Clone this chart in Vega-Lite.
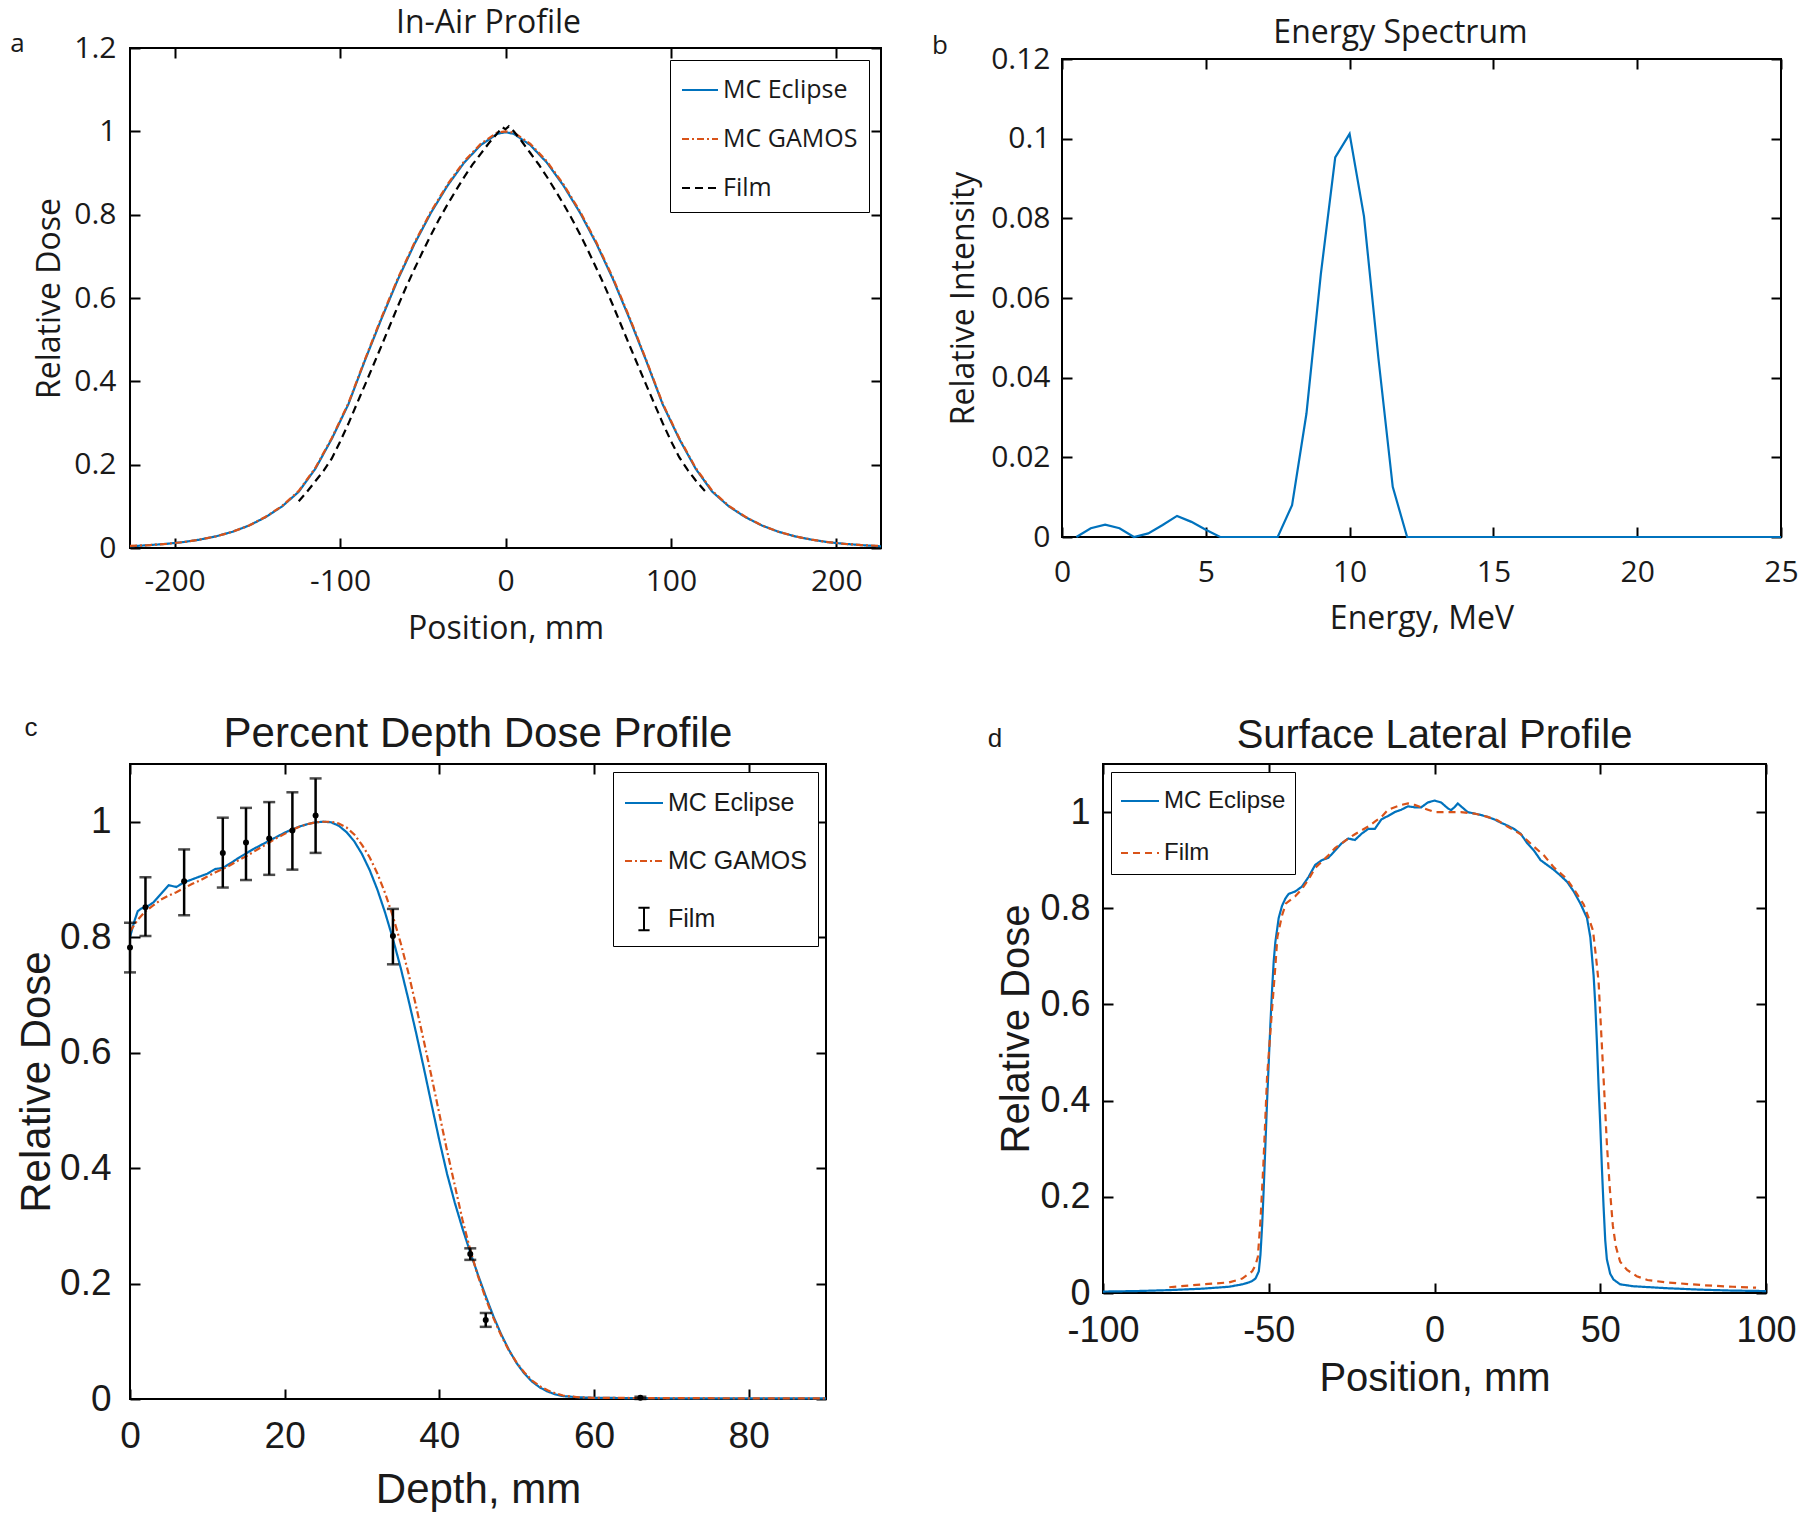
{
  "$schema": "https://vega.github.io/schema/vega-lite/v6.json",
  "background": "white",
  "padding": {"left": 9, "top": 6, "right": 2, "bottom": 2},
  "config": {
    "view": {"stroke": "black", "strokeWidth": 2},
    "axis": {"grid": false, "domain": false, "tickColor": "black", "tickWidth": 2, "tickSize": -10, "labelColor": "#1a1a1a", "titleColor": "#1a1a1a", "titleFontWeight": "normal", "labelFlush": false, "labelOverlap": false},
    "title": {"fontWeight": "normal", "color": "#1a1a1a", "frame": "group"},
    "legend": {"titleFontWeight": "normal", "labelColor": "#1a1a1a", "labelLimit": 400}
  },
  "datasets": {
    "air": [
      {"s":"MC Eclipse","x":-227,"y":0.004},{"s":"MC Eclipse","x":-215,"y":0.007},{"s":"MC Eclipse","x":-205,"y":0.010},{"s":"MC Eclipse","x":-195,"y":0.014},{"s":"MC Eclipse","x":-185,"y":0.020},{"s":"MC Eclipse","x":-175,"y":0.028},{"s":"MC Eclipse","x":-165,"y":0.039},{"s":"MC Eclipse","x":-155,"y":0.054},{"s":"MC Eclipse","x":-145,"y":0.074},{"s":"MC Eclipse","x":-135,"y":0.100},{"s":"MC Eclipse","x":-125,"y":0.135},{"s":"MC Eclipse","x":-115,"y":0.190},{"s":"MC Eclipse","x":-105,"y":0.262},{"s":"MC Eclipse","x":-95,"y":0.345},{"s":"MC Eclipse","x":-85,"y":0.450},{"s":"MC Eclipse","x":-75,"y":0.550},{"s":"MC Eclipse","x":-65,"y":0.645},{"s":"MC Eclipse","x":-55,"y":0.730},{"s":"MC Eclipse","x":-45,"y":0.805},{"s":"MC Eclipse","x":-35,"y":0.870},{"s":"MC Eclipse","x":-25,"y":0.925},{"s":"MC Eclipse","x":-15,"y":0.967},{"s":"MC Eclipse","x":-5,"y":0.994},{"s":"MC Eclipse","x":0,"y":0.998},{"s":"MC Eclipse","x":5,"y":0.994},{"s":"MC Eclipse","x":15,"y":0.967},{"s":"MC Eclipse","x":25,"y":0.925},{"s":"MC Eclipse","x":35,"y":0.870},{"s":"MC Eclipse","x":45,"y":0.805},{"s":"MC Eclipse","x":55,"y":0.730},{"s":"MC Eclipse","x":65,"y":0.645},{"s":"MC Eclipse","x":75,"y":0.550},{"s":"MC Eclipse","x":85,"y":0.450},{"s":"MC Eclipse","x":95,"y":0.345},{"s":"MC Eclipse","x":105,"y":0.262},{"s":"MC Eclipse","x":115,"y":0.190},{"s":"MC Eclipse","x":125,"y":0.135},{"s":"MC Eclipse","x":135,"y":0.100},{"s":"MC Eclipse","x":145,"y":0.074},{"s":"MC Eclipse","x":155,"y":0.054},{"s":"MC Eclipse","x":165,"y":0.039},{"s":"MC Eclipse","x":175,"y":0.028},{"s":"MC Eclipse","x":185,"y":0.020},{"s":"MC Eclipse","x":195,"y":0.014},{"s":"MC Eclipse","x":205,"y":0.010},{"s":"MC Eclipse","x":215,"y":0.007},{"s":"MC Eclipse","x":227,"y":0.004},
      {"s":"MC GAMOS","x":-227,"y":0.005},{"s":"MC GAMOS","x":-215,"y":0.007},{"s":"MC GAMOS","x":-205,"y":0.010},{"s":"MC GAMOS","x":-195,"y":0.014},{"s":"MC GAMOS","x":-185,"y":0.020},{"s":"MC GAMOS","x":-175,"y":0.028},{"s":"MC GAMOS","x":-165,"y":0.039},{"s":"MC GAMOS","x":-155,"y":0.054},{"s":"MC GAMOS","x":-145,"y":0.075},{"s":"MC GAMOS","x":-135,"y":0.101},{"s":"MC GAMOS","x":-125,"y":0.137},{"s":"MC GAMOS","x":-115,"y":0.192},{"s":"MC GAMOS","x":-105,"y":0.264},{"s":"MC GAMOS","x":-95,"y":0.347},{"s":"MC GAMOS","x":-85,"y":0.452},{"s":"MC GAMOS","x":-75,"y":0.553},{"s":"MC GAMOS","x":-65,"y":0.648},{"s":"MC GAMOS","x":-55,"y":0.733},{"s":"MC GAMOS","x":-45,"y":0.808},{"s":"MC GAMOS","x":-35,"y":0.873},{"s":"MC GAMOS","x":-25,"y":0.928},{"s":"MC GAMOS","x":-15,"y":0.970},{"s":"MC GAMOS","x":-5,"y":0.997},{"s":"MC GAMOS","x":0,"y":1.0},{"s":"MC GAMOS","x":5,"y":0.997},{"s":"MC GAMOS","x":15,"y":0.970},{"s":"MC GAMOS","x":25,"y":0.928},{"s":"MC GAMOS","x":35,"y":0.873},{"s":"MC GAMOS","x":45,"y":0.808},{"s":"MC GAMOS","x":55,"y":0.733},{"s":"MC GAMOS","x":65,"y":0.648},{"s":"MC GAMOS","x":75,"y":0.553},{"s":"MC GAMOS","x":85,"y":0.452},{"s":"MC GAMOS","x":95,"y":0.347},{"s":"MC GAMOS","x":105,"y":0.264},{"s":"MC GAMOS","x":115,"y":0.192},{"s":"MC GAMOS","x":125,"y":0.137},{"s":"MC GAMOS","x":135,"y":0.101},{"s":"MC GAMOS","x":145,"y":0.075},{"s":"MC GAMOS","x":155,"y":0.054},{"s":"MC GAMOS","x":165,"y":0.039},{"s":"MC GAMOS","x":175,"y":0.028},{"s":"MC GAMOS","x":185,"y":0.020},{"s":"MC GAMOS","x":195,"y":0.014},{"s":"MC GAMOS","x":205,"y":0.010},{"s":"MC GAMOS","x":215,"y":0.007},{"s":"MC GAMOS","x":227,"y":0.005},
      {"s":"Film","x":-125,"y":0.112},{"s":"Film","x":-120,"y":0.135},{"s":"Film","x":-115,"y":0.160},{"s":"Film","x":-110,"y":0.185},{"s":"Film","x":-105,"y":0.215},{"s":"Film","x":-100,"y":0.255},{"s":"Film","x":-95,"y":0.298},{"s":"Film","x":-90,"y":0.345},{"s":"Film","x":-85,"y":0.391},{"s":"Film","x":-80,"y":0.438},{"s":"Film","x":-75,"y":0.485},{"s":"Film","x":-70,"y":0.533},{"s":"Film","x":-65,"y":0.581},{"s":"Film","x":-60,"y":0.627},{"s":"Film","x":-55,"y":0.670},{"s":"Film","x":-50,"y":0.712},{"s":"Film","x":-45,"y":0.752},{"s":"Film","x":-40,"y":0.790},{"s":"Film","x":-35,"y":0.825},{"s":"Film","x":-30,"y":0.858},{"s":"Film","x":-25,"y":0.890},{"s":"Film","x":-20,"y":0.920},{"s":"Film","x":-15,"y":0.946},{"s":"Film","x":-10,"y":0.972},{"s":"Film","x":-5,"y":0.995},{"s":"Film","x":-2,"y":1.010},{"s":"Film","x":0,"y":1.005},{"s":"Film","x":2,"y":1.012},{"s":"Film","x":5,"y":1.000},{"s":"Film","x":10,"y":0.975},{"s":"Film","x":15,"y":0.948},{"s":"Film","x":20,"y":0.921},{"s":"Film","x":25,"y":0.891},{"s":"Film","x":30,"y":0.859},{"s":"Film","x":35,"y":0.826},{"s":"Film","x":40,"y":0.791},{"s":"Film","x":45,"y":0.753},{"s":"Film","x":50,"y":0.713},{"s":"Film","x":55,"y":0.671},{"s":"Film","x":60,"y":0.628},{"s":"Film","x":65,"y":0.582},{"s":"Film","x":70,"y":0.534},{"s":"Film","x":75,"y":0.486},{"s":"Film","x":80,"y":0.439},{"s":"Film","x":85,"y":0.392},{"s":"Film","x":90,"y":0.346},{"s":"Film","x":95,"y":0.300},{"s":"Film","x":100,"y":0.257},{"s":"Film","x":105,"y":0.218},{"s":"Film","x":110,"y":0.188},{"s":"Film","x":115,"y":0.162},{"s":"Film","x":122,"y":0.130}
    ],
    "spec": [
      {"e":0.5,"i":0},{"e":1.0,"i":0.0022},{"e":1.5,"i":0.0031},{"e":2.0,"i":0.0022},{"e":2.5,"i":0},{"e":3.0,"i":0.0009},{"e":3.5,"i":0.003},{"e":4.0,"i":0.0053},{"e":4.5,"i":0.0038},{"e":5.0,"i":0.0018},{"e":5.5,"i":0},{"e":6.0,"i":0},{"e":6.5,"i":0},{"e":7.0,"i":0},{"e":7.5,"i":0},{"e":8.0,"i":0.008},{"e":8.5,"i":0.031},{"e":9.0,"i":0.066},{"e":9.5,"i":0.0953},{"e":10.0,"i":0.1012},{"e":10.5,"i":0.0805},{"e":11.0,"i":0.045},{"e":11.5,"i":0.0126},{"e":12.0,"i":0},{"e":13,"i":0},{"e":14,"i":0},{"e":15,"i":0},{"e":16,"i":0},{"e":17,"i":0},{"e":18,"i":0},{"e":19,"i":0},{"e":20,"i":0},{"e":21,"i":0},{"e":22,"i":0},{"e":23,"i":0},{"e":24,"i":0},{"e":25,"i":0}
    ],
    "pdd": [
      {"s":"MC Eclipse","x":0,"y":0.80},{"s":"MC Eclipse","x":0.5,"y":0.825},{"s":"MC Eclipse","x":1,"y":0.845},{"s":"MC Eclipse","x":1.5,"y":0.85},{"s":"MC Eclipse","x":2,"y":0.851},{"s":"MC Eclipse","x":3,"y":0.86},{"s":"MC Eclipse","x":4,"y":0.875},{"s":"MC Eclipse","x":5,"y":0.89},{"s":"MC Eclipse","x":6,"y":0.887},{"s":"MC Eclipse","x":7,"y":0.895},{"s":"MC Eclipse","x":8,"y":0.90},{"s":"MC Eclipse","x":9,"y":0.905},{"s":"MC Eclipse","x":10,"y":0.91},{"s":"MC Eclipse","x":11,"y":0.918},{"s":"MC Eclipse","x":12,"y":0.92},{"s":"MC Eclipse","x":13,"y":0.928},{"s":"MC Eclipse","x":14,"y":0.937},{"s":"MC Eclipse","x":15,"y":0.945},{"s":"MC Eclipse","x":16,"y":0.953},{"s":"MC Eclipse","x":17,"y":0.96},{"s":"MC Eclipse","x":18,"y":0.967},{"s":"MC Eclipse","x":19,"y":0.974},{"s":"MC Eclipse","x":20,"y":0.981},{"s":"MC Eclipse","x":21,"y":0.987},{"s":"MC Eclipse","x":22,"y":0.992},{"s":"MC Eclipse","x":23,"y":0.996},{"s":"MC Eclipse","x":24,"y":0.999},{"s":"MC Eclipse","x":25,"y":1.0},{"s":"MC Eclipse","x":26,"y":0.999},{"s":"MC Eclipse","x":27,"y":0.993},{"s":"MC Eclipse","x":28,"y":0.982},{"s":"MC Eclipse","x":29,"y":0.966},{"s":"MC Eclipse","x":30,"y":0.944},{"s":"MC Eclipse","x":31,"y":0.916},{"s":"MC Eclipse","x":32,"y":0.882},{"s":"MC Eclipse","x":33,"y":0.842},{"s":"MC Eclipse","x":34,"y":0.797},{"s":"MC Eclipse","x":35,"y":0.747},{"s":"MC Eclipse","x":36,"y":0.692},{"s":"MC Eclipse","x":37,"y":0.634},{"s":"MC Eclipse","x":38,"y":0.573},{"s":"MC Eclipse","x":39,"y":0.51},{"s":"MC Eclipse","x":40,"y":0.448},{"s":"MC Eclipse","x":41,"y":0.39},{"s":"MC Eclipse","x":42,"y":0.34},{"s":"MC Eclipse","x":43,"y":0.295},{"s":"MC Eclipse","x":44,"y":0.254},{"s":"MC Eclipse","x":45,"y":0.215},{"s":"MC Eclipse","x":46,"y":0.178},{"s":"MC Eclipse","x":47,"y":0.143},{"s":"MC Eclipse","x":48,"y":0.112},{"s":"MC Eclipse","x":49,"y":0.085},{"s":"MC Eclipse","x":50,"y":0.062},{"s":"MC Eclipse","x":51,"y":0.044},{"s":"MC Eclipse","x":52,"y":0.03},{"s":"MC Eclipse","x":53,"y":0.02},{"s":"MC Eclipse","x":54,"y":0.013},{"s":"MC Eclipse","x":55,"y":0.008},{"s":"MC Eclipse","x":56,"y":0.005},{"s":"MC Eclipse","x":58,"y":0.003},{"s":"MC Eclipse","x":60,"y":0.002},{"s":"MC Eclipse","x":70,"y":0.0012},{"s":"MC Eclipse","x":80,"y":0.001},{"s":"MC Eclipse","x":90,"y":0.001},
      {"s":"MC GAMOS","x":0,"y":0.81},{"s":"MC GAMOS","x":1,"y":0.83},{"s":"MC GAMOS","x":2,"y":0.845},{"s":"MC GAMOS","x":3,"y":0.855},{"s":"MC GAMOS","x":4,"y":0.865},{"s":"MC GAMOS","x":5,"y":0.872},{"s":"MC GAMOS","x":6,"y":0.878},{"s":"MC GAMOS","x":7,"y":0.885},{"s":"MC GAMOS","x":8,"y":0.892},{"s":"MC GAMOS","x":9,"y":0.898},{"s":"MC GAMOS","x":10,"y":0.905},{"s":"MC GAMOS","x":11,"y":0.912},{"s":"MC GAMOS","x":12,"y":0.918},{"s":"MC GAMOS","x":13,"y":0.925},{"s":"MC GAMOS","x":14,"y":0.933},{"s":"MC GAMOS","x":15,"y":0.94},{"s":"MC GAMOS","x":16,"y":0.948},{"s":"MC GAMOS","x":17,"y":0.956},{"s":"MC GAMOS","x":18,"y":0.964},{"s":"MC GAMOS","x":19,"y":0.972},{"s":"MC GAMOS","x":20,"y":0.979},{"s":"MC GAMOS","x":21,"y":0.986},{"s":"MC GAMOS","x":22,"y":0.992},{"s":"MC GAMOS","x":23,"y":0.996},{"s":"MC GAMOS","x":24,"y":0.999},{"s":"MC GAMOS","x":25,"y":1.0},{"s":"MC GAMOS","x":26,"y":1.0},{"s":"MC GAMOS","x":27,"y":0.997},{"s":"MC GAMOS","x":28,"y":0.99},{"s":"MC GAMOS","x":29,"y":0.978},{"s":"MC GAMOS","x":30,"y":0.96},{"s":"MC GAMOS","x":31,"y":0.938},{"s":"MC GAMOS","x":32,"y":0.91},{"s":"MC GAMOS","x":33,"y":0.876},{"s":"MC GAMOS","x":34,"y":0.836},{"s":"MC GAMOS","x":35,"y":0.79},{"s":"MC GAMOS","x":36,"y":0.738},{"s":"MC GAMOS","x":37,"y":0.68},{"s":"MC GAMOS","x":38,"y":0.62},{"s":"MC GAMOS","x":39,"y":0.558},{"s":"MC GAMOS","x":40,"y":0.494},{"s":"MC GAMOS","x":41,"y":0.43},{"s":"MC GAMOS","x":42,"y":0.37},{"s":"MC GAMOS","x":43,"y":0.31},{"s":"MC GAMOS","x":44,"y":0.258},{"s":"MC GAMOS","x":45,"y":0.213},{"s":"MC GAMOS","x":46,"y":0.174},{"s":"MC GAMOS","x":47,"y":0.14},{"s":"MC GAMOS","x":48,"y":0.11},{"s":"MC GAMOS","x":49,"y":0.084},{"s":"MC GAMOS","x":50,"y":0.063},{"s":"MC GAMOS","x":51,"y":0.046},{"s":"MC GAMOS","x":52,"y":0.032},{"s":"MC GAMOS","x":53,"y":0.022},{"s":"MC GAMOS","x":54,"y":0.015},{"s":"MC GAMOS","x":55,"y":0.01},{"s":"MC GAMOS","x":56,"y":0.006},{"s":"MC GAMOS","x":58,"y":0.003},{"s":"MC GAMOS","x":60,"y":0.002},{"s":"MC GAMOS","x":70,"y":0.0015},{"s":"MC GAMOS","x":80,"y":0.0012},{"s":"MC GAMOS","x":90,"y":0.0012}
    ],
    "pddFilm": [
      {"s":"Film","x":0,"y":0.782,"lo":0.739,"hi":0.825},
      {"s":"Film","x":2,"y":0.852,"lo":0.802,"hi":0.904},
      {"s":"Film","x":7,"y":0.897,"lo":0.838,"hi":0.952},
      {"s":"Film","x":12,"y":0.946,"lo":0.886,"hi":1.007},
      {"s":"Film","x":15,"y":0.964,"lo":0.899,"hi":1.024},
      {"s":"Film","x":18,"y":0.971,"lo":0.908,"hi":1.034},
      {"s":"Film","x":21,"y":0.985,"lo":0.917,"hi":1.051},
      {"s":"Film","x":24,"y":1.011,"lo":0.946,"hi":1.075},
      {"s":"Film","x":34,"y":0.802,"lo":0.753,"hi":0.849},
      {"s":"Film","x":44,"y":0.251,"lo":0.241,"hi":0.261},
      {"s":"Film","x":46,"y":0.137,"lo":0.125,"hi":0.149},
      {"s":"Film","x":66,"y":0.002,"lo":0.0,"hi":0.004}
    ],
    "lat": [
      {"s":"MC Eclipse","x":-100,"y":0.003},{"s":"MC Eclipse","x":-90,"y":0.004},{"s":"MC Eclipse","x":-80,"y":0.006},{"s":"MC Eclipse","x":-70,"y":0.009},{"s":"MC Eclipse","x":-62,"y":0.013},{"s":"MC Eclipse","x":-58,"y":0.018},{"s":"MC Eclipse","x":-56,"y":0.022},{"s":"MC Eclipse","x":-55,"y":0.025},{"s":"MC Eclipse","x":-54,"y":0.03},{"s":"MC Eclipse","x":-53,"y":0.045},{"s":"MC Eclipse","x":-52.5,"y":0.08},{"s":"MC Eclipse","x":-52,"y":0.14},{"s":"MC Eclipse","x":-51.5,"y":0.22},{"s":"MC Eclipse","x":-51,"y":0.31},{"s":"MC Eclipse","x":-50.5,"y":0.40},{"s":"MC Eclipse","x":-50,"y":0.48},{"s":"MC Eclipse","x":-49.5,"y":0.56},{"s":"MC Eclipse","x":-49,"y":0.63},{"s":"MC Eclipse","x":-48.5,"y":0.69},{"s":"MC Eclipse","x":-48,"y":0.73},{"s":"MC Eclipse","x":-47,"y":0.78},{"s":"MC Eclipse","x":-46,"y":0.805},{"s":"MC Eclipse","x":-45,"y":0.82},{"s":"MC Eclipse","x":-44,"y":0.83},{"s":"MC Eclipse","x":-42,"y":0.835},{"s":"MC Eclipse","x":-40,"y":0.845},{"s":"MC Eclipse","x":-38,"y":0.865},{"s":"MC Eclipse","x":-36,"y":0.89},{"s":"MC Eclipse","x":-34,"y":0.90},{"s":"MC Eclipse","x":-32,"y":0.905},{"s":"MC Eclipse","x":-30,"y":0.92},{"s":"MC Eclipse","x":-28,"y":0.935},{"s":"MC Eclipse","x":-26,"y":0.945},{"s":"MC Eclipse","x":-24,"y":0.942},{"s":"MC Eclipse","x":-22,"y":0.955},{"s":"MC Eclipse","x":-20,"y":0.965},{"s":"MC Eclipse","x":-18,"y":0.965},{"s":"MC Eclipse","x":-16,"y":0.985},{"s":"MC Eclipse","x":-14,"y":0.992},{"s":"MC Eclipse","x":-12,"y":1.0},{"s":"MC Eclipse","x":-10,"y":1.005},{"s":"MC Eclipse","x":-8,"y":1.012},{"s":"MC Eclipse","x":-6,"y":1.01},{"s":"MC Eclipse","x":-4,"y":1.01},{"s":"MC Eclipse","x":-2,"y":1.02},{"s":"MC Eclipse","x":0,"y":1.024},{"s":"MC Eclipse","x":2,"y":1.02},{"s":"MC Eclipse","x":4,"y":1.008},{"s":"MC Eclipse","x":5,"y":1.004},{"s":"MC Eclipse","x":6,"y":1.01},{"s":"MC Eclipse","x":7,"y":1.018},{"s":"MC Eclipse","x":8,"y":1.012},{"s":"MC Eclipse","x":10,"y":1.0},{"s":"MC Eclipse","x":12,"y":0.997},{"s":"MC Eclipse","x":14,"y":0.994},{"s":"MC Eclipse","x":16,"y":0.99},{"s":"MC Eclipse","x":18,"y":0.985},{"s":"MC Eclipse","x":20,"y":0.978},{"s":"MC Eclipse","x":22,"y":0.972},{"s":"MC Eclipse","x":24,"y":0.965},{"s":"MC Eclipse","x":26,"y":0.955},{"s":"MC Eclipse","x":28,"y":0.935},{"s":"MC Eclipse","x":30,"y":0.92},{"s":"MC Eclipse","x":32,"y":0.90},{"s":"MC Eclipse","x":34,"y":0.89},{"s":"MC Eclipse","x":36,"y":0.88},{"s":"MC Eclipse","x":38,"y":0.868},{"s":"MC Eclipse","x":40,"y":0.855},{"s":"MC Eclipse","x":42,"y":0.835},{"s":"MC Eclipse","x":44,"y":0.81},{"s":"MC Eclipse","x":45,"y":0.795},{"s":"MC Eclipse","x":46,"y":0.78},{"s":"MC Eclipse","x":47,"y":0.74},{"s":"MC Eclipse","x":47.5,"y":0.70},{"s":"MC Eclipse","x":48,"y":0.66},{"s":"MC Eclipse","x":48.5,"y":0.60},{"s":"MC Eclipse","x":49,"y":0.52},{"s":"MC Eclipse","x":49.5,"y":0.43},{"s":"MC Eclipse","x":50,"y":0.35},{"s":"MC Eclipse","x":50.5,"y":0.26},{"s":"MC Eclipse","x":51,"y":0.18},{"s":"MC Eclipse","x":51.5,"y":0.11},{"s":"MC Eclipse","x":52,"y":0.07},{"s":"MC Eclipse","x":53,"y":0.04},{"s":"MC Eclipse","x":54,"y":0.028},{"s":"MC Eclipse","x":56,"y":0.018},{"s":"MC Eclipse","x":60,"y":0.014},{"s":"MC Eclipse","x":70,"y":0.01},{"s":"MC Eclipse","x":80,"y":0.007},{"s":"MC Eclipse","x":90,"y":0.005},{"s":"MC Eclipse","x":100,"y":0.004},
      {"s":"Film","x":-80,"y":0.012},{"s":"Film","x":-70,"y":0.018},{"s":"Film","x":-62,"y":0.022},{"s":"Film","x":-58,"y":0.03},{"s":"Film","x":-55,"y":0.045},{"s":"Film","x":-54,"y":0.058},{"s":"Film","x":-53.3,"y":0.075},{"s":"Film","x":-52.5,"y":0.15},{"s":"Film","x":-51.6,"y":0.27},{"s":"Film","x":-50.5,"y":0.45},{"s":"Film","x":-49,"y":0.59},{"s":"Film","x":-48,"y":0.68},{"s":"Film","x":-47.4,"y":0.74},{"s":"Film","x":-46,"y":0.785},{"s":"Film","x":-44.8,"y":0.81},{"s":"Film","x":-42,"y":0.825},{"s":"Film","x":-40,"y":0.84},{"s":"Film","x":-38,"y":0.86},{"s":"Film","x":-36,"y":0.884},{"s":"Film","x":-34,"y":0.897},{"s":"Film","x":-32,"y":0.91},{"s":"Film","x":-30,"y":0.925},{"s":"Film","x":-28,"y":0.935},{"s":"Film","x":-26,"y":0.945},{"s":"Film","x":-24,"y":0.954},{"s":"Film","x":-22,"y":0.962},{"s":"Film","x":-20,"y":0.97},{"s":"Film","x":-18,"y":0.98},{"s":"Film","x":-16,"y":0.99},{"s":"Film","x":-14,"y":1.005},{"s":"Film","x":-12,"y":1.01},{"s":"Film","x":-10,"y":1.015},{"s":"Film","x":-8,"y":1.018},{"s":"Film","x":-6,"y":1.015},{"s":"Film","x":-4,"y":1.01},{"s":"Film","x":-2,"y":1.005},{"s":"Film","x":0,"y":1.0},{"s":"Film","x":4,"y":1.0},{"s":"Film","x":8,"y":1.0},{"s":"Film","x":12,"y":0.997},{"s":"Film","x":16,"y":0.99},{"s":"Film","x":19,"y":0.983},{"s":"Film","x":22,"y":0.97},{"s":"Film","x":26,"y":0.954},{"s":"Film","x":30,"y":0.928},{"s":"Film","x":33,"y":0.91},{"s":"Film","x":36,"y":0.885},{"s":"Film","x":39.8,"y":0.862},{"s":"Film","x":42,"y":0.84},{"s":"Film","x":45,"y":0.808},{"s":"Film","x":46.5,"y":0.78},{"s":"Film","x":47.8,"y":0.754},{"s":"Film","x":48.7,"y":0.70},{"s":"Film","x":49.5,"y":0.647},{"s":"Film","x":50.3,"y":0.54},{"s":"Film","x":51.2,"y":0.42},{"s":"Film","x":52,"y":0.31},{"s":"Film","x":52.9,"y":0.216},{"s":"Film","x":53.8,"y":0.14},{"s":"Film","x":54.7,"y":0.097},{"s":"Film","x":56,"y":0.065},{"s":"Film","x":58.1,"y":0.048},{"s":"Film","x":61,"y":0.035},{"s":"Film","x":64.2,"y":0.027},{"s":"Film","x":70,"y":0.022},{"s":"Film","x":81.5,"y":0.016},{"s":"Film","x":90,"y":0.013},{"s":"Film","x":97,"y":0.011}
    ]
  },
  "spacing": 66,
  "resolve": {"scale": {"color": "independent", "strokeDash": "independent"}, "legend": {"color": "independent", "strokeDash": "independent"}},
  "vconcat": [
    {
      "resolve": {"scale": {"color": "independent", "strokeDash": "independent"}, "legend": {"color": "independent", "strokeDash": "independent"}},
      "hconcat": [
        {
          "width": 751, "height": 500,
          "title": {"text": "In-Air Profile", "font": "Open Sans", "fontSize": 32, "offset": -9, "dx": -17},
          "resolve": {"axis": {"x": "independent", "y": "independent"}},
          "layer": [
            {
              "data": {"name": "air"},
              "transform": [{"filter": "datum.s === 'MC Eclipse'"}],
              "mark": {"type": "line", "strokeWidth": 2.2},
              "encoding": {
                "x": {"field": "x", "type": "quantitative", "scale": {"domain": [-227, 227], "nice": false, "zero": false},
                      "axis": {"orient": "bottom", "values": [-200, -100, 0, 100, 200], "labelExpr": "datum.value < 0 ? '-' + format(-datum.value, '~g') : format(datum.value, '~g')", "title": "Position, mm", "labelFont": "Open Sans", "labelFontSize": 30, "titleFont": "Open Sans", "titleFontSize": 32, "labelPadding": 28, "titlePadding": 17}},
                "y": {"field": "y", "type": "quantitative", "scale": {"domain": [0, 1.2], "nice": false, "zero": false},
                      "axis": {"orient": "left", "values": [0, 0.2, 0.4, 0.6, 0.8, 1, 1.2], "labelExpr": "format(datum.value, '~g')", "title": "Relative Dose", "labelFont": "Open Sans", "labelFontSize": 30, "titleFont": "Open Sans", "titleFontSize": 32, "labelPadding": 24, "titlePadding": 7}},
                "color": {"field": "s", "type": "nominal", "scale": {"domain": ["MC Eclipse", "MC GAMOS", "Film"], "range": ["#0072BD", "#D95319", "#000000"]},
                          "legend": {"orient": "top-right", "offset": 12, "title": null, "strokeColor": "black", "fillColor": "white", "padding": 11, "labelFont": "Open Sans", "labelFontSize": 25, "symbolSize": 1296, "symbolStrokeWidth": 2, "rowPadding": 17, "labelOffset": 4}},
                "strokeDash": {"field": "s", "type": "nominal", "scale": {"domain": ["MC Eclipse", "MC GAMOS", "Film"], "range": [[1, 0], [7, 3, 2, 3], [8, 5]]},
                          "legend": {"orient": "top-right", "offset": 12, "title": null, "strokeColor": "black", "fillColor": "white", "padding": 11, "labelFont": "Open Sans", "labelFontSize": 25, "symbolSize": 1296, "symbolStrokeWidth": 2, "rowPadding": 17, "labelOffset": 4}}
              }
            },
            {
              "data": {"name": "air"},
              "transform": [{"filter": "datum.s === 'MC GAMOS'"}],
              "mark": {"type": "line", "strokeWidth": 2.2},
              "encoding": {
                "x": {"field": "x", "type": "quantitative", "scale": {"domain": [-227, 227], "nice": false, "zero": false},
                      "axis": {"orient": "top", "values": [-200, -100, 0, 100, 200], "labels": false, "title": null}},
                "y": {"field": "y", "type": "quantitative", "scale": {"domain": [0, 1.2], "nice": false, "zero": false},
                      "axis": {"orient": "right", "values": [0, 0.2, 0.4, 0.6, 0.8, 1, 1.2], "labels": false, "title": null}},
                "color": {"field": "s", "type": "nominal", "scale": {"domain": ["MC Eclipse", "MC GAMOS", "Film"], "range": ["#0072BD", "#D95319", "#000000"]}},
                "strokeDash": {"field": "s", "type": "nominal", "scale": {"domain": ["MC Eclipse", "MC GAMOS", "Film"], "range": [[1, 0], [7, 3, 2, 3], [8, 5]]}}
              }
            },
            {
              "data": {"name": "air"},
              "transform": [{"filter": "datum.s === 'Film'"}],
              "mark": {"type": "line", "strokeWidth": 2.2},
              "encoding": {
                "x": {"field": "x", "type": "quantitative", "scale": {"domain": [-227, 227], "nice": false, "zero": false}, "axis": null},
                "y": {"field": "y", "type": "quantitative", "scale": {"domain": [0, 1.2], "nice": false, "zero": false}, "axis": null},
                "color": {"field": "s", "type": "nominal", "scale": {"domain": ["MC Eclipse", "MC GAMOS", "Film"], "range": ["#0072BD", "#D95319", "#000000"]}},
                "strokeDash": {"field": "s", "type": "nominal", "scale": {"domain": ["MC Eclipse", "MC GAMOS", "Film"], "range": [[1, 0], [7, 3, 2, 3], [8, 5]]}}
              }
            },
            {
              "data": {"values": [{}]},
              "mark": {"type": "text", "font": "Open Sans", "fontSize": 26, "color": "#1a1a1a", "baseline": "middle", "align": "center"},
              "encoding": {
                "x": {"datum": -295, "type": "quantitative", "scale": {"domain": [-227, 227], "nice": false, "zero": false}, "axis": null},
                "y": {"datum": 1.2096, "type": "quantitative", "scale": {"domain": [0, 1.2], "nice": false, "zero": false}, "axis": null},
                "text": {"value": "a"}
              }
            }
          ]
        },
        {
          "width": 719, "height": 478,
          "title": {"text": "Energy Spectrum", "font": "Open Sans", "fontSize": 32, "offset": -17, "dx": -21},
          "resolve": {"axis": {"x": "independent", "y": "independent"}},
          "layer": [
            {
              "data": {"name": "spec"},
              "mark": {"type": "line", "strokeWidth": 2.2, "color": "#0072BD"},
              "encoding": {
                "x": {"field": "e", "type": "quantitative", "scale": {"domain": [0, 25], "nice": false, "zero": false},
                      "axis": {"orient": "bottom", "values": [0, 5, 10, 15, 20, 25], "labelExpr": "format(datum.value, '~g')", "title": "Energy, MeV", "labelFont": "Open Sans", "labelFontSize": 30, "titleFont": "Open Sans", "titleFontSize": 32, "labelPadding": 30, "titlePadding": 16}},
                "y": {"field": "i", "type": "quantitative", "scale": {"domain": [0, 0.12], "nice": false, "zero": false},
                      "axis": {"orient": "left", "values": [0, 0.02, 0.04, 0.06, 0.08, 0.1, 0.12], "labelExpr": "format(datum.value, '~g')", "title": "Relative Intensity", "labelFont": "Open Sans", "labelFontSize": 30, "titleFont": "Open Sans", "titleFontSize": 32, "labelPadding": 22, "titlePadding": 10}}
              }
            },
            {
              "data": {"name": "spec"},
              "mark": {"type": "line", "strokeWidth": 2.2, "color": "#0072BD", "opacity": 0},
              "encoding": {
                "x": {"field": "e", "type": "quantitative", "scale": {"domain": [0, 25], "nice": false, "zero": false},
                      "axis": {"orient": "top", "values": [0, 5, 10, 15, 20, 25], "labels": false, "title": null}},
                "y": {"field": "i", "type": "quantitative", "scale": {"domain": [0, 0.12], "nice": false, "zero": false},
                      "axis": {"orient": "right", "values": [0, 0.02, 0.04, 0.06, 0.08, 0.1, 0.12], "labels": false, "title": null}}
              }
            },
            {
              "data": {"values": [{}]},
              "mark": {"type": "text", "font": "Open Sans", "fontSize": 26, "color": "#1a1a1a", "baseline": "middle", "align": "center"},
              "encoding": {
                "x": {"datum": -4.24, "type": "quantitative", "scale": {"domain": [0, 25], "nice": false, "zero": false}, "axis": null},
                "y": {"datum": 0.12326, "type": "quantitative", "scale": {"domain": [0, 0.12], "nice": false, "zero": false}, "axis": null},
                "text": {"value": "b"}
              }
            }
          ]
        }
      ],
      "bounds": "flush",
      "center": true,
      "spacing": 181
    },
    {
      "resolve": {"scale": {"color": "independent", "strokeDash": "independent"}, "legend": {"color": "independent", "strokeDash": "independent"}},
      "hconcat": [
        {
          "width": 696, "height": 635,
          "title": {"text": "Percent Depth Dose Profile", "font": "Liberation Sans", "fontSize": 42, "offset": -41},
          "resolve": {"axis": {"x": "independent", "y": "independent"}},
          "layer": [
            {
              "data": {"name": "pdd"},
              "transform": [{"filter": "datum.s === 'MC Eclipse'"}],
              "mark": {"type": "line", "strokeWidth": 2.2},
              "encoding": {
                "x": {"field": "x", "type": "quantitative", "scale": {"domain": [0, 90], "nice": false, "zero": false},
                      "axis": {"orient": "bottom", "values": [0, 20, 40, 60, 80], "labelExpr": "format(datum.value, '~g')", "title": "Depth, mm", "labelFont": "Liberation Sans", "labelFontSize": 37, "titleFont": "Liberation Sans", "titleFontSize": 42, "labelPadding": 29, "titlePadding": 15}},
                "y": {"field": "y", "type": "quantitative", "scale": {"domain": [0, 1.1], "nice": false, "zero": false},
                      "axis": {"orient": "left", "values": [0, 0.2, 0.4, 0.6, 0.8, 1], "labelExpr": "format(datum.value, '~g')", "title": "Relative Dose", "labelFont": "Liberation Sans", "labelFontSize": 37, "titleFont": "Liberation Sans", "titleFontSize": 42, "labelPadding": 29, "titlePadding": 1}},
                "color": {"field": "s", "type": "nominal", "scale": {"domain": ["MC Eclipse", "MC GAMOS", "Film"], "range": ["#0072BD", "#D95319", "#000000"]},
                          "legend": {"orient": "top-right", "offset": 8, "title": null, "strokeColor": "black", "fillColor": "white", "padding": 11, "labelFont": "Liberation Sans", "labelFontSize": 25, "symbolSize": 1444, "symbolStrokeWidth": 2, "rowPadding": 25, "labelOffset": 4,
                                     "encode": {"symbols": {"update": {"shape": {"signal": "datum.value === 'Film' ? 'M0,-1L0,1M-0.5,-1L0.5,-1M-0.5,1L0.5,1' : 'stroke'"}, "size": {"signal": "datum.value === 'Film' ? 500 : 1444"}}}}}},
                "strokeDash": {"field": "s", "type": "nominal", "scale": {"domain": ["MC Eclipse", "MC GAMOS", "Film"], "range": [[1, 0], [7, 3, 2, 3], [1, 0]]},
                          "legend": {"orient": "top-right", "offset": 8, "title": null, "strokeColor": "black", "fillColor": "white", "padding": 11, "labelFont": "Liberation Sans", "labelFontSize": 25, "symbolSize": 1444, "symbolStrokeWidth": 2, "rowPadding": 25, "labelOffset": 4}}
              }
            },
            {
              "data": {"name": "pdd"},
              "transform": [{"filter": "datum.s === 'MC GAMOS'"}],
              "mark": {"type": "line", "strokeWidth": 2.2},
              "encoding": {
                "x": {"field": "x", "type": "quantitative", "scale": {"domain": [0, 90], "nice": false, "zero": false},
                      "axis": {"orient": "top", "values": [0, 20, 40, 60, 80], "labels": false, "title": null}},
                "y": {"field": "y", "type": "quantitative", "scale": {"domain": [0, 1.1], "nice": false, "zero": false},
                      "axis": {"orient": "right", "values": [0, 0.2, 0.4, 0.6, 0.8, 1], "labels": false, "title": null}},
                "color": {"field": "s", "type": "nominal", "scale": {"domain": ["MC Eclipse", "MC GAMOS", "Film"], "range": ["#0072BD", "#D95319", "#000000"]}},
                "strokeDash": {"field": "s", "type": "nominal", "scale": {"domain": ["MC Eclipse", "MC GAMOS", "Film"], "range": [[1, 0], [7, 3, 2, 3], [1, 0]]}}
              }
            },
            {
              "data": {"name": "pddFilm"},
              "mark": {"type": "rule", "strokeWidth": 2.5},
              "encoding": {
                "x": {"field": "x", "type": "quantitative", "scale": {"domain": [0, 90], "nice": false, "zero": false}, "axis": null},
                "y": {"field": "lo", "type": "quantitative", "scale": {"domain": [0, 1.1], "nice": false, "zero": false}, "axis": null},
                "y2": {"field": "hi"},
                "color": {"field": "s", "type": "nominal", "scale": {"domain": ["MC Eclipse", "MC GAMOS", "Film"], "range": ["#0072BD", "#D95319", "#000000"]}},
                "strokeDash": {"field": "s", "type": "nominal", "scale": {"domain": ["MC Eclipse", "MC GAMOS", "Film"], "range": [[1, 0], [7, 3, 2, 3], [1, 0]]}}
              }
            },
            {
              "data": {"name": "pddFilm"},
              "mark": {"type": "tick", "orient": "horizontal", "size": 12, "thickness": 2.5, "color": "#000000"},
              "encoding": {
                "x": {"field": "x", "type": "quantitative", "scale": {"domain": [0, 90], "nice": false, "zero": false}, "axis": null},
                "y": {"field": "lo", "type": "quantitative", "scale": {"domain": [0, 1.1], "nice": false, "zero": false}, "axis": null}
              }
            },
            {
              "data": {"name": "pddFilm"},
              "mark": {"type": "tick", "orient": "horizontal", "size": 12, "thickness": 2.5, "color": "#000000"},
              "encoding": {
                "x": {"field": "x", "type": "quantitative", "scale": {"domain": [0, 90], "nice": false, "zero": false}, "axis": null},
                "y": {"field": "hi", "type": "quantitative", "scale": {"domain": [0, 1.1], "nice": false, "zero": false}, "axis": null}
              }
            },
            {
              "data": {"name": "pddFilm"},
              "mark": {"type": "point", "filled": true, "size": 36, "color": "#000000", "opacity": 1},
              "encoding": {
                "x": {"field": "x", "type": "quantitative", "scale": {"domain": [0, 90], "nice": false, "zero": false}, "axis": null},
                "y": {"field": "y", "type": "quantitative", "scale": {"domain": [0, 1.1], "nice": false, "zero": false}, "axis": null}
              }
            },
            {
              "data": {"values": [{}]},
              "mark": {"type": "text", "font": "Liberation Sans", "fontSize": 26, "color": "#1a1a1a", "baseline": "middle", "align": "center"},
              "encoding": {
                "x": {"datum": -12.8, "type": "quantitative", "scale": {"domain": [0, 90], "nice": false, "zero": false}, "axis": null},
                "y": {"datum": 1.1624, "type": "quantitative", "scale": {"domain": [0, 1.1], "nice": false, "zero": false}, "axis": null},
                "text": {"value": "c"}
              }
            }
          ]
        },
        {
          "width": 663, "height": 529,
          "title": {"text": "Surface Lateral Profile", "font": "Liberation Sans", "fontSize": 40, "offset": -30},
          "resolve": {"axis": {"x": "independent", "y": "independent"}},
          "layer": [
            {
              "data": {"name": "lat"},
              "transform": [{"filter": "datum.s === 'MC Eclipse'"}],
              "mark": {"type": "line", "strokeWidth": 2.2},
              "encoding": {
                "x": {"field": "x", "type": "quantitative", "scale": {"domain": [-100, 100], "nice": false, "zero": false},
                      "axis": {"orient": "bottom", "values": [-100, -50, 0, 50, 100], "labelExpr": "datum.value < 0 ? '-' + format(-datum.value, '~g') : format(datum.value, '~g')", "title": "Position, mm", "labelFont": "Liberation Sans", "labelFontSize": 36, "titleFont": "Liberation Sans", "titleFontSize": 40, "labelPadding": 30, "titlePadding": 10}},
                "y": {"field": "y", "type": "quantitative", "scale": {"domain": [0, 1.1], "nice": false, "zero": false},
                      "axis": {"orient": "left", "values": [0, 0.2, 0.4, 0.6, 0.8, 1], "labelExpr": "format(datum.value, '~g')", "title": "Relative Dose", "labelFont": "Liberation Sans", "labelFontSize": 36, "titleFont": "Liberation Sans", "titleFontSize": 40, "labelPadding": 23, "titlePadding": 3}},
                "color": {"field": "s", "type": "nominal", "scale": {"domain": ["MC Eclipse", "Film"], "range": ["#0072BD", "#D95319"]},
                          "legend": {"orient": "top-left", "offset": 8, "title": null, "strokeColor": "black", "fillColor": "white", "padding": 9, "labelFont": "Liberation Sans", "labelFontSize": 24, "symbolSize": 1444, "symbolStrokeWidth": 2, "rowPadding": 20, "labelOffset": 4}},
                "strokeDash": {"field": "s", "type": "nominal", "scale": {"domain": ["MC Eclipse", "Film"], "range": [[1, 0], [7, 5]]},
                          "legend": {"orient": "top-left", "offset": 8, "title": null, "strokeColor": "black", "fillColor": "white", "padding": 9, "labelFont": "Liberation Sans", "labelFontSize": 24, "symbolSize": 1444, "symbolStrokeWidth": 2, "rowPadding": 20, "labelOffset": 4}}
              }
            },
            {
              "data": {"name": "lat"},
              "transform": [{"filter": "datum.s === 'Film'"}],
              "mark": {"type": "line", "strokeWidth": 2.2},
              "encoding": {
                "x": {"field": "x", "type": "quantitative", "scale": {"domain": [-100, 100], "nice": false, "zero": false},
                      "axis": {"orient": "top", "values": [-100, -50, 0, 50, 100], "labels": false, "title": null}},
                "y": {"field": "y", "type": "quantitative", "scale": {"domain": [0, 1.1], "nice": false, "zero": false},
                      "axis": {"orient": "right", "values": [0, 0.2, 0.4, 0.6, 0.8, 1], "labels": false, "title": null}},
                "color": {"field": "s", "type": "nominal", "scale": {"domain": ["MC Eclipse", "Film"], "range": ["#0072BD", "#D95319"]}},
                "strokeDash": {"field": "s", "type": "nominal", "scale": {"domain": ["MC Eclipse", "Film"], "range": [[1, 0], [7, 5]]}}
              }
            },
            {
              "data": {"values": [{}]},
              "mark": {"type": "text", "font": "Liberation Sans", "fontSize": 26, "color": "#1a1a1a", "baseline": "middle", "align": "center"},
              "encoding": {
                "x": {"datum": -132.6, "type": "quantitative", "scale": {"domain": [-100, 100], "nice": false, "zero": false}, "axis": null},
                "y": {"datum": 1.1519, "type": "quantitative", "scale": {"domain": [0, 1.1], "nice": false, "zero": false}, "axis": null},
                "text": {"value": "d"}
              }
            }
          ]
        }
      ],
      "bounds": "flush",
      "spacing": 277
    }
  ]
}
